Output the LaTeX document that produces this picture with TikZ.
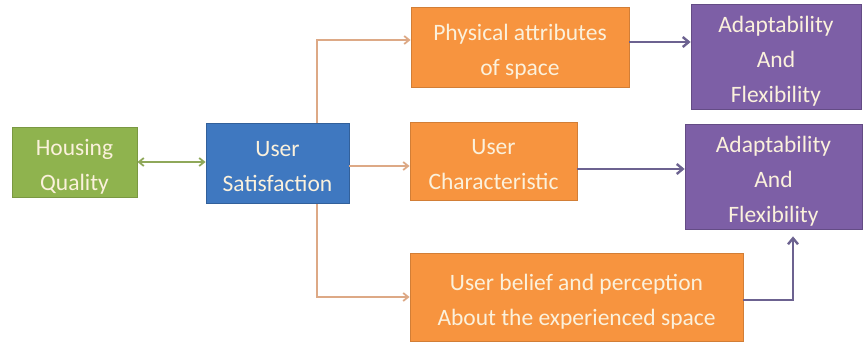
\documentclass[tikz,border=0pt]{standalone}
\usepackage{fontspec}
\setmainfont{Carlito}
\usetikzlibrary{arrows.meta,backgrounds,calc}
\definecolor{hqgreen}{HTML}{8FB34E}
\definecolor{usblue}{HTML}{3F78C0}
\definecolor{orbox}{HTML}{F7943F}
\definecolor{purbox}{HTML}{7D5FA6}
\definecolor{txtcol}{HTML}{FBF1DC}
\definecolor{orline}{HTML}{DDA986}
\definecolor{purline}{HTML}{6C6290}
\definecolor{grline}{HTML}{8FA85A}
\newcommand{\bxt}[1]{\raisebox{-3.5pt}[\height][\depth]{\begin{tabular}{@{}c@{}}#1\end{tabular}}}
\tikzset{
  box/.style={rectangle, inner sep=0pt, text=txtcol,
    font=\fontsize{23.5}{35}\selectfont},
  greenbox/.style={box, fill=hqgreen, draw=hqgreen!85!black, line width=0.8pt},
  bluebox/.style={box, fill=usblue, draw=usblue!80!black, line width=0.8pt},
  orangebox/.style={box, fill=orbox, draw=orbox!85!black, line width=0.8pt},
  purplebox/.style={box, fill=purbox, draw=purbox!80!black, line width=0.8pt},
  orarrow/.style={draw=orline, line width=1.8pt, -{Straight Barb[length=5pt,width=8pt]}},
  purarrow/.style={draw=purline, line width=2.4pt, -{Straight Barb[length=6pt,width=10pt]}},
  grarrow/.style={draw=grline, line width=1.8pt, {Straight Barb[length=5pt,width=8pt]}-{Straight Barb[length=5pt,width=8pt]}}
}
\begin{document}
\begin{tikzpicture}[x=1pt,y=-1pt]
\useasboundingbox (0,0) rectangle (863,343);
\node[greenbox, minimum width=125pt, minimum height=70pt] (hq) at (74.5,162) {\bxt{Housing\\Quality}};
\node[bluebox, minimum width=143pt, minimum height=80pt] (us) at (277.5,163) {\bxt{User\\Satisfaction}};
\node[orangebox, minimum width=218pt, minimum height=80pt] (phys) at (520,47) {\bxt{Physical attributes\\of space}};
\node[purplebox, minimum width=170pt, minimum height=99pt] (ad1) at (776,56.5) {\bxt{Adaptability\\And\\Flexibility}};
\node[orangebox, minimum width=167pt, minimum height=78pt] (uc) at (493.5,161) {\bxt{User\\Characteristic}};
\node[purplebox, minimum width=177pt, minimum height=99pt] (ad2) at (773.5,176.5) {\bxt{Adaptability\\And\\Flexibility}};
\node[orangebox, minimum width=333pt, minimum height=88pt] (ub) at (576.5,297) {\bxt{User belief and perception\\About the experienced space}};
\coordinate (trunk) at (317,0);
\coordinate (up) at (793,0);
\begin{scope}[on background layer]
\draw[orarrow] (us.north -| trunk) |- ([yshift=7pt]phys.west);
\draw[orarrow] (us.south -| trunk) |- (ub.west);
\draw[draw=orline, line width=1.8pt] (us.north -| trunk) -- (us.south -| trunk);
\end{scope}
\draw[orarrow] ([yshift=-3pt]us.east) -- ([yshift=-3pt]us.east -| uc.west);
\draw[grarrow] (hq.east) -- (hq.east -| us.west);
\draw[purarrow] ([yshift=5pt]phys.east) -- ([yshift=5pt]phys.east -| ad1.west);
\draw[purarrow] ([yshift=-8pt]uc.east) -- ([yshift=-8pt]uc.east -| ad2.west);
\draw[purarrow] ([yshift=-3pt]ub.east) -| ([yshift=-7pt]ad2.south -| up);
\end{tikzpicture}
\end{document}
